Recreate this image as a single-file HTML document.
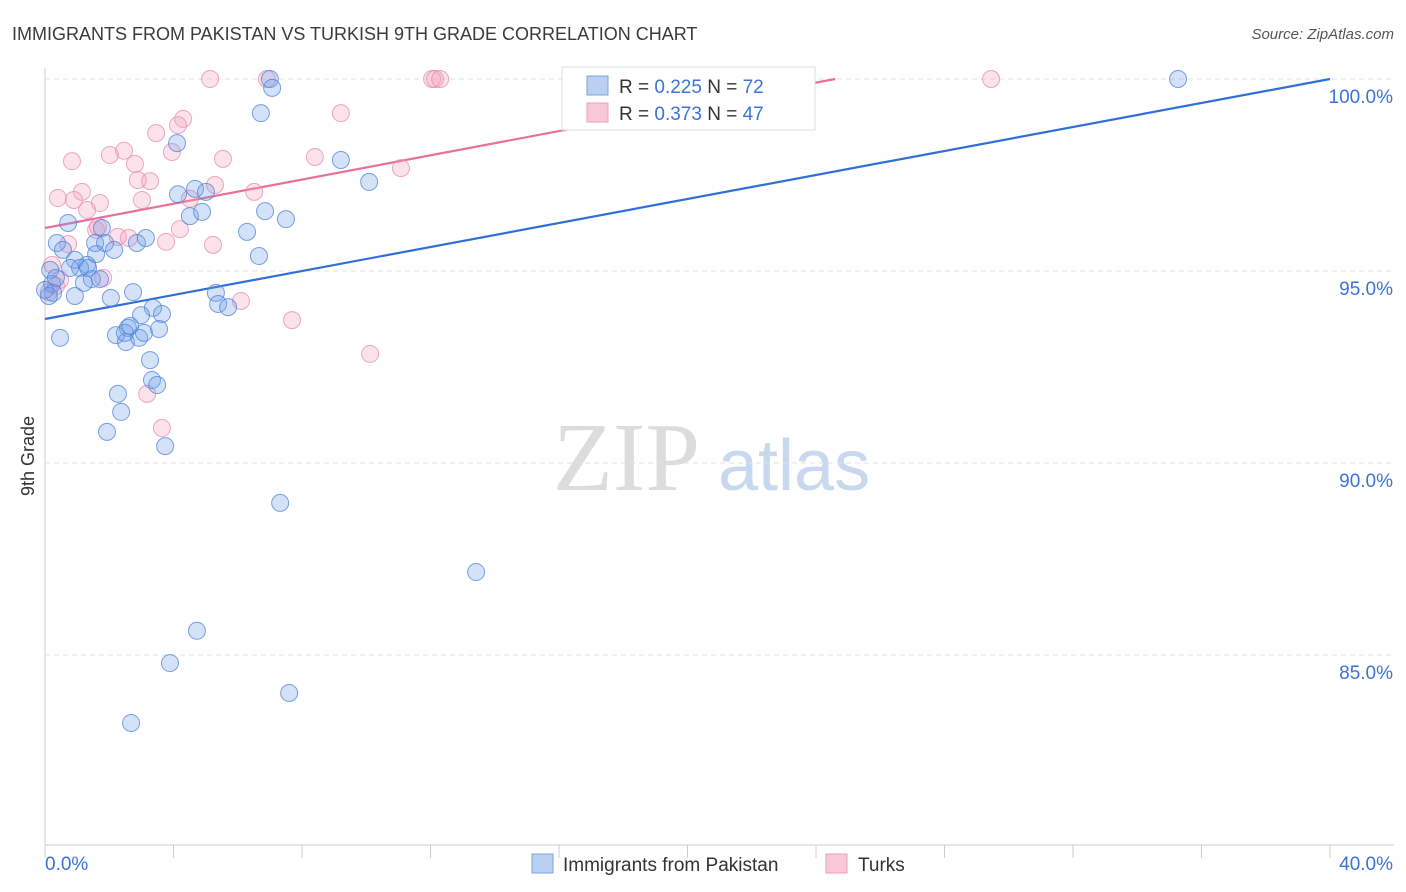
<!DOCTYPE html>
<html><head><meta charset="utf-8">
<style>
body{margin:0;background:#fff;font-family:"Liberation Sans",sans-serif;}
svg{display:block}
</style></head>
<body>
<svg id="chart" width="1406" height="892" xmlns="http://www.w3.org/2000/svg">
<text x="12" y="40" font-size="18" fill="#3a3a3a">IMMIGRANTS FROM PAKISTAN VS TURKISH 9TH GRADE CORRELATION CHART</text>
<text x="1394" y="39" font-size="15" fill="#555" font-style="italic" text-anchor="end">Source: ZipAtlas.com</text>
<g>
<text x="553" y="490" font-size="98" fill="#dcdcdc" font-family="Liberation Serif,serif">ZIP</text>
<text x="718" y="490" font-size="72" fill="#c8d8ee">atlas</text>
</g>
<text transform="translate(34,456) rotate(-90)" font-size="18" fill="#333" text-anchor="middle">9th Grade</text>
<g id="grid"></g>
<g id="axes"></g>
<g id="lines"></g>
<g id="points"></g>
<g>
<rect x="562" y="67" width="253" height="63" fill="#fff" stroke="#ddd"/>
<rect x="587" y="76" width="21" height="19" fill="#b9d0f2" stroke="#7aa4e0"/>
<text x="619" y="93" font-size="19" fill="#333">R = <tspan fill="#3b73d6">0.225</tspan>   N = <tspan fill="#3b73d6">72</tspan></text>
<rect x="587" y="103" width="21" height="19" fill="#f9c8d7" stroke="#eaa0b8"/>
<text x="619" y="120" font-size="19" fill="#333">R = <tspan fill="#3b73d6">0.373</tspan>   N = <tspan fill="#3b73d6">47</tspan></text>
</g>
<g>
<rect x="532" y="854" width="21" height="19" fill="#b9d0f2" stroke="#7aa4e0"/>
<text x="563" y="871" font-size="19" fill="#333">Immigrants from Pakistan</text>
<rect x="826" y="854" width="21" height="19" fill="#f9c8d7" stroke="#eaa0b8"/>
<text x="858" y="871" font-size="19" fill="#333">Turks</text>
</g>
</svg>
<script>
const yTicks=[100,95,90,85];
const yTickLabels=["100.0%","95.0%","90.0%","85.0%"];
const xTickLabels=["0.0%","40.0%"];
const blueX=[16.4,7.0,7.07,35.27,6.72,4.11,9.21,10.09,4.67,4.14,5.01,6.85,4.51,4.89,7.5,0.72,6.29,1.77,0.37,1.56,1.87,2.86,3.14,2.15,6.66,0.56,0.93,1.59,1.31,1.09,0.16,1.46,1.71,0.22,1.21,0.25,0.93,2.05,2.74,5.32,5.39,5.7,3.36,3.64,2.99,0.47,2.58,2.21,2.52,2.93,3.08,3.55,2.49,3.27,3.33,3.49,2.27,2.37,1.93,3.74,7.32,13.42,4.73,3.89,7.6,2.68,0.12,0,0.34,0.78,1.34,2.65];
const blueY=[100,100,99.77,100,99.11,98.33,97.89,97.32,97.14,97.0,97.06,96.56,96.43,96.54,96.35,96.25,96.02,96.12,95.73,95.73,95.73,95.73,95.86,95.55,95.39,95.55,95.29,95.44,95.16,95.08,95.03,94.79,94.79,94.66,94.69,94.43,94.35,94.3,94.45,94.43,94.14,94.06,94.04,93.88,93.85,93.26,93.52,93.33,93.15,93.26,93.39,93.49,93.39,92.68,92.16,92.03,91.8,91.33,90.81,90.44,88.96,87.16,85.63,84.79,84.01,83.23,94.35,94.51,94.82,95.08,95.08,93.57];
const pinkX=[5.14,6.91,12.05,12.14,12.3,29.45,9.21,4.3,3.46,4.14,3.95,2.46,2.02,5.54,0.84,2.8,8.4,11.08,2.89,3.27,5.29,1.15,6.51,0.4,0.9,1.71,1.31,4.51,3.02,1.59,4.2,2.27,2.61,3.77,0.72,5.23,0.22,0.47,1.81,0.12,6.1,7.69,10.12,3.18,3.64,1.65,0.34];
const pinkY=[100,100,100,100,100,100,99.11,98.96,98.59,98.8,98.1,98.13,98.02,97.92,97.86,97.79,97.97,97.68,97.37,97.34,97.24,97.06,97.06,96.9,96.85,96.77,96.59,96.88,96.85,96.07,96.09,95.89,95.86,95.76,95.7,95.68,95.16,94.77,94.82,94.45,94.22,93.72,92.84,91.8,90.91,96.15,94.61];
const blueFit=[93.75,100];   // y at x=0 and x=40
const pinkFit=[96.12,102.43];
const NS="http://www.w3.org/2000/svg";
const X0=45,X1=1330,Y100=79,PXPER=38.4,YBOT=845;
function sx(v){return X0+(v/40)*(X1-X0);}
function sy(v){return Y100+(100-v)*PXPER;}
function mk(tag,attrs,parent){const e=document.createElementNS(NS,tag);for(const k in attrs)e.setAttribute(k,attrs[k]);parent.appendChild(e);return e;}
const grid=document.getElementById('grid'),axes=document.getElementById('axes'),lines=document.getElementById('lines'),pts=document.getElementById('points');
let l=mk('line',{x1:X0,x2:1394,y1:sy(100),y2:sy(100),stroke:'#e2e2e2','stroke-dasharray':'5,4'},grid);


yTicks.forEach((t,i)=>{
 const g=mk('line',{x1:X0,x2:1394,y1:sy(t),y2:sy(t),stroke:'#e2e2e2','stroke-dasharray':'5,4'},grid);
 
 
 const tx=mk('text',{x:1393,y:sy(t)+24,'font-size':19,fill:'#3b73d6','text-anchor':'end'},axes);
 tx.textContent=yTickLabels[i];
 
 
});
let ax=mk('line',{x1:X0,x2:X0,y1:68,y2:YBOT,stroke:'#ccc'},axes);


let bx=mk('line',{x1:X0,x2:1394,y1:YBOT,y2:YBOT,stroke:'#ccc'},axes);


for(let i=0;i<=10;i++){
 const t=mk('line',{x1:sx(i*4),x2:sx(i*4),y1:YBOT,y2:YBOT+13,stroke:'#ccc'},axes);
 
 
}
let xl0=mk('text',{x:45,y:870,'font-size':19,fill:'#3b73d6'},axes);xl0.textContent=xTickLabels[0];


let xl1=mk('text',{x:1393,y:870,'font-size':19,fill:'#3b73d6','text-anchor':'end'},axes);xl1.textContent=xTickLabels[1];


function fitLine(f,color,name){
 let xe=40,ye=f[1];
 if(f[1]>100){xe=40*(100-f[0])/(f[1]-f[0]);ye=100;}
 const ln=mk('line',{x1:sx(0),y1:sy(f[0]),x2:sx(xe),y2:sy(ye),stroke:color,'stroke-width':2.2},lines);
 
 
}
pinkX.forEach((x,i)=>{
 const c=mk('circle',{cx:sx(x),cy:sy(pinkY[i]),r:8.5,fill:'rgba(244,160,190,0.3)',stroke:'rgba(230,140,170,0.75)','stroke-width':1},pts);
 
 
});
blueX.forEach((x,i)=>{
 const c=mk('circle',{cx:sx(x),cy:sy(blueY[i]),r:8.5,fill:'rgba(110,160,235,0.3)',stroke:'rgba(80,130,215,0.75)','stroke-width':1},pts);
 
 
});
fitLine(blueFit,'#2f6fd6','trend-line-pakistan');
fitLine(pinkFit,'#e8709a','trend-line-turks');
</script>
</body></html>
